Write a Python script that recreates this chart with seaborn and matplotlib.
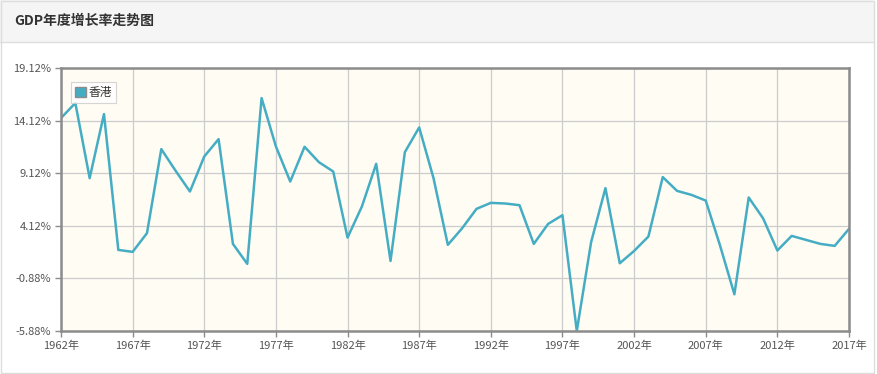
import matplotlib
matplotlib.use("Agg")
import matplotlib.pyplot as plt
import matplotlib.patches as mpatches
import seaborn as sns
import pandas as pd

years = list(range(1962, 2018))
growth = [14.36, 15.79, 8.65, 14.74, 1.83, 1.64, 3.42, 11.41, 9.35, 7.38,
          10.71, 12.36, 2.40, 0.50, 16.26, 11.66, 8.33, 11.63, 10.17, 9.28,
          3.00, 5.95, 10.01, 0.78, 11.12, 13.47, 8.65, 2.31, 3.89, 5.73,
          6.30, 6.24, 6.08, 2.40, 4.30, 5.13, -5.88, 2.56, 7.70, 0.56,
          1.73, 3.10, 8.75, 7.44, 7.06, 6.52, 2.24, -2.39, 6.81, 4.84,
          1.77, 3.16, 2.78, 2.40, 2.21, 3.83]
series_name = "香港"
title = "GDP年度增长率走势图"
y_ticks = [-5.88, -0.88, 4.12, 9.12, 14.12, 19.12]
x_ticks = [1962, 1967, 1972, 1977, 1982, 1987, 1992, 1997, 2002, 2007, 2012, 2017]

df = pd.DataFrame({"year": years, "growth": growth, "region": series_name})

sns.set_theme(style="white")
plt.rcParams["font.family"] = ["Noto Sans CJK SC", "DejaVu Sans"]

W, H = 877, 374
fig = plt.figure(figsize=(W / 100, H / 100), dpi=100)
fig.patch.set_facecolor("white")

# card header
fig.patches.append(mpatches.Rectangle((0, 1 - 42 / H), 874 / W, 42 / H, transform=fig.transFigure,
                                      facecolor="#f5f5f5", edgecolor="none", zorder=0))
fig.lines.append(plt.Line2D([0, 874 / W], [1 - 42 / H, 1 - 42 / H], transform=fig.transFigure,
                            color="#dddddd", lw=1))
fig.patches.append(mpatches.Rectangle((0.5 / W, 1 / H), 873 / W, (H - 2) / H, transform=fig.transFigure,
                                      facecolor="none", edgecolor="#dddddd", lw=1, zorder=5))
fig.text(14 / W, 1 - 21 / H, title, fontsize=10, fontweight="bold", color="#333333",
         va="center", ha="left")

ax = fig.add_axes([61 / W, 1 - 331 / H, (849 - 61) / W, (331 - 68) / H])
ax.set_facecolor("#fffcf4")
line_color = "#45adc3"
sns.lineplot(data=df, x="year", y="growth", ax=ax, color=line_color, lw=1.8, legend=False)

ax.set_xlim(1962, 2017)
ax.set_ylim(-5.88, 19.12)
ax.set_xticks(x_ticks)
ax.set_xticklabels([f"{y}年" for y in x_ticks])
ax.set_yticks(y_ticks)
ax.set_yticklabels([f"{v:.2f}%" for v in y_ticks])
ax.grid(True, color="#cccccc", lw=0.9)
ax.set_axisbelow(True)
ax.set_xlabel("")
ax.set_ylabel("")
for s in ax.spines.values():
    s.set_color("#8c8c8c")
    s.set_linewidth(1.8)
ax.tick_params(axis="both", which="both", length=4, width=1, color="#8c8c8c",
               labelsize=8, labelcolor="#555555", pad=3, direction="out",
               bottom=True, left=True)

handle = mpatches.Patch(facecolor=line_color, edgecolor="#8c8c8c", label=series_name)
leg = ax.legend(handles=[handle], loc="upper left", bbox_to_anchor=(0.01, 0.955),
                frameon=True, fontsize=8.5, handlelength=0.9, handleheight=0.9,
                handletextpad=0.2, borderpad=0.35, fancybox=False, borderaxespad=0.2)
leg.get_frame().set_edgecolor("#cccccc")
leg.get_frame().set_facecolor("white")
leg.get_frame().set_linewidth(0.8)
for t in leg.get_texts():
    t.set_color("#333333")

fig.savefig("out.png", dpi=100)
